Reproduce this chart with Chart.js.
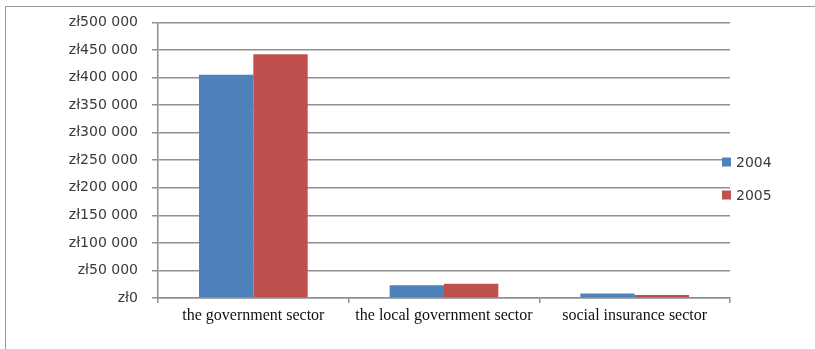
<!DOCTYPE html>
<html>
<head>
<meta charset="utf-8">
<script src="https://cdn.jsdelivr.net/npm/chart.js@4.4.1/dist/chart.umd.min.js"></script>
<style>
  html, body { margin: 0; padding: 0; background: #fff; }
  #wrap { position: relative; width: 815px; height: 349px; }
  #frame {
    position: absolute; left: 5px; top: 6px; right: 0; bottom: 0;
    border-left: 1.5px solid #9a9a9a; border-top: 1.5px solid #9a9a9a;
  }
  canvas { position: absolute; left: 0; top: 0; }
</style>
</head>
<body>
<div id="wrap">
  <div id="frame"></div>
  <canvas id="sectorChart" width="815" height="349"></canvas>
</div>
<script>
const sectors = ["the government sector", "the local government sector", "social insurance sector"];
const years = ["2004", "2005"];
const values2004 = [405000, 23000, 8000];
const values2005 = [442000, 26000, 5400];
const yTicks = [0, 50000, 100000, 150000, 200000, 250000, 300000, 350000, 400000, 450000, 500000];

const colors = ["#4F81BD", "#C0504D"];
const gridColor = "#8f8f8f";

function formatZl(v) {
  const s = String(v).replace(/\B(?=(\d{3})+(?!\d))/g, " ");
  return "zł" + s;
}

// legend stacked on the right, next to the plot
const sideLegend = {
  id: "sideLegend",
  afterDraw(chart) {
    const ctx = chart.ctx;
    const rows = [162, 195];
    ctx.save();
    chart.data.datasets.forEach((ds, i) => {
      ctx.fillStyle = ds.backgroundColor;
      ctx.fillRect(722, rows[i] - 4.5, 9, 9);
      ctx.fillStyle = "#3a3a3a";
      ctx.font = "14px 'DejaVu Sans'";
      ctx.textBaseline = "middle";
      ctx.textAlign = "left";
      ctx.fillText(ds.label, 736, rows[i] + 1);
    });
    ctx.restore();
  }
};

new Chart(document.getElementById("sectorChart").getContext("2d"), {
  type: "bar",
  data: {
    labels: sectors,
    datasets: [
      { label: years[0], data: values2004, backgroundColor: colors[0] },
      { label: years[1], data: values2005, backgroundColor: colors[1] }
    ]
  },
  options: {
    responsive: false,
    animation: false,
    layout: { padding: { left: 0, right: 85, top: 22, bottom: 0 } },
    datasets: {
      bar: { categoryPercentage: 0.57, barPercentage: 1.0 }
    },
    plugins: {
      legend: { display: false },
      tooltip: { enabled: false }
    },
    scales: {
      x: {
        afterFit(scale) { scale.height = 51; },
        grid: {
          display: true,
          offset: true,
          drawOnChartArea: false,
          drawTicks: true,
          tickLength: 5,
          color: gridColor,
          lineWidth: 1.5
        },
        border: { display: true, color: gridColor, width: 1.5 },
        ticks: {
          color: "#111",
          font: { family: "'Liberation Serif'", size: 16 },
          padding: 3,
          maxRotation: 0,
          autoSkip: false
        }
      },
      y: {
        min: 0,
        max: 500000,
        afterFit(scale) { scale.width = 158; },
        afterBuildTicks(scale) { scale.ticks = yTicks.map(v => ({ value: v })); },
        grid: {
          color: gridColor,
          lineWidth: 1.5,
          drawTicks: true,
          tickLength: 6
        },
        border: { display: true, color: gridColor, width: 1.5 },
        ticks: {
          color: "#3a3a3a",
          font: { family: "'DejaVu Sans'", size: 14 },
          padding: 14,
          callback: v => formatZl(v)
        }
      }
    }
  },
  plugins: [sideLegend]
});
</script>
</body>
</html>
